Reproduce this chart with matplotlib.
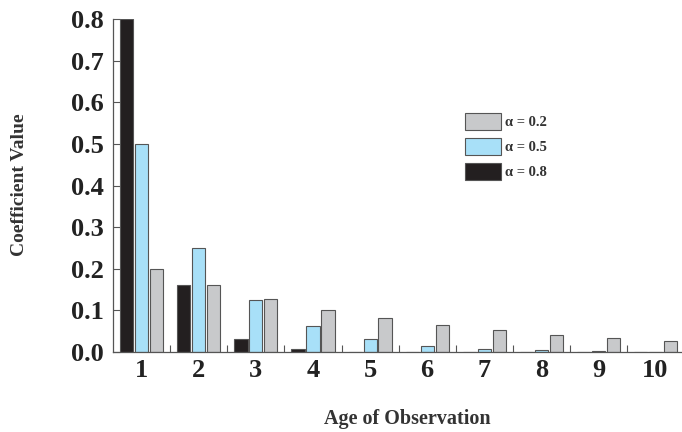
import numpy as np
import matplotlib
matplotlib.use('Agg')
import matplotlib.pyplot as plt
from matplotlib.ticker import FixedLocator

plt.rcParams['font.family'] = ['Liberation Serif', 'DejaVu Serif']

ages = [1, 2, 3, 4, 5, 6, 7, 8, 9, 10]
alpha_08 = [0.8, 0.16, 0.032, 0.0064, 0.0013, 0.0003, 0.0001, 0.0, 0.0, 0.0]
alpha_05 = [0.5, 0.25, 0.125, 0.0625, 0.031, 0.0156, 0.0078, 0.0039, 0.002, 0.001]
alpha_02 = [0.2, 0.16, 0.128, 0.102, 0.082, 0.0655, 0.0524, 0.042, 0.0336, 0.0268]
labels = ['\u03b1 = 0.2', '\u03b1 = 0.5', '\u03b1 = 0.8']

cols = ['#c8c9cb', '#a8e0f8', '#231f20']
edge = '#555555'

fig = plt.figure(figsize=(6.82, 4.32), dpi=100)
ax = fig.add_axes([0.166, 0.185, 0.832, 0.771])

x = np.array(ages)
off = 0.262
w = 0.23
b8 = ax.bar(x - off, alpha_08, w, color=cols[2], edgecolor=edge, linewidth=0.8)
b5 = ax.bar(x, alpha_05, w, color=cols[1], edgecolor=edge, linewidth=0.8)
b2 = ax.bar(x + off, alpha_02, w, color=cols[0], edgecolor=edge, linewidth=0.8)

ax.set_xlim(0.5, 10.44)
ax.set_ylim(0, 0.8)
ax.set_yticks(np.arange(0, 0.81, 0.1))
ax.set_yticklabels(['%.1f' % v for v in np.arange(0, 0.81, 0.1)])
ax.set_xticks(ages)
ax.set_xticklabels([str(a) for a in ages])
ax.xaxis.set_minor_locator(FixedLocator(np.arange(1.5, 10.5, 1.0)))

ax.tick_params(axis='x', which='major', length=0, pad=5, labelsize=19)
ax.tick_params(axis='x', which='minor', direction='in', length=5, width=0.8, color='#555555')
ax.tick_params(axis='y', direction='in', length=5, width=0.8, color='#555555', labelsize=19, pad=7)
for t in ax.get_xticklabels() + ax.get_yticklabels():
    t.set_fontweight('bold')
    t.set_color('#222222')

for s in ['top', 'right']:
    ax.spines[s].set_visible(False)
for s in ['left', 'bottom']:
    ax.spines[s].set_color('#555555')
    ax.spines[s].set_linewidth(0.9)

fig.text(0.028, 0.572, 'Coefficient Value', rotation=90, ha='center', va='center',
         fontsize=14, fontweight='bold', color='#333333')
fig.text(0.597, 0.03, 'Age of Observation', ha='center', va='center',
         fontsize=14.5, fontweight='bold', color='#333333')

leg = ax.legend([b2, b5, b8], labels, loc='upper left', bbox_to_anchor=(0.5965, 0.757),
                frameon=False, handlelength=2.45, handleheight=1.4, labelspacing=0.55,
                handletextpad=0.3, prop={'size': 10.5, 'weight': 'bold'})
for t in leg.get_texts():
    t.set_color('#333333')

fig.savefig('out.png', dpi=100)
